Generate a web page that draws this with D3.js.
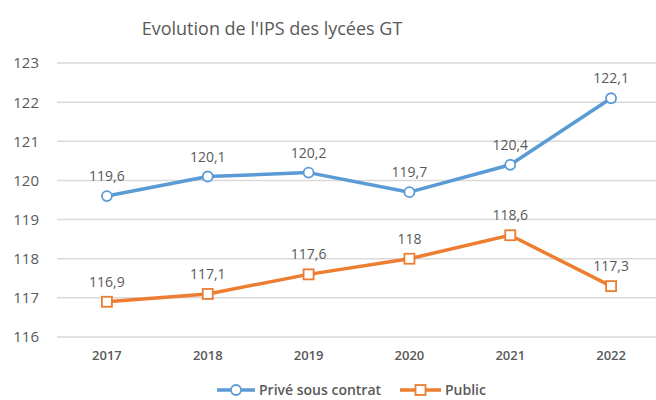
<!DOCTYPE html>
<html lang="fr">
<head>
    <meta charset="UTF-8">
    <title>Evolution de l'IPS des lycées GT</title>
    <script src="https://d3js.org/d3.v7.min.js"></script>
</head>
<body style="margin:0;background:#fff;">

<style>
    text { font-family: "Open Sans", "Liberation Sans", sans-serif; fill: #595959; }
    .grid line { stroke: #d9d9d9; stroke-width: 1.5; }
</style>

<script type="text/javascript">

    var years = ["2017", "2018", "2019", "2020", "2021", "2022"];
    var prive = [119.6, 120.1, 120.2, 119.7, 120.4, 122.1];
    var publicVals = [116.9, 117.1, 117.6, 118, 118.6, 117.3];
    var yTicks = [116, 117, 118, 119, 120, 121, 122, 123];

    var width = 656, height = 400;

    var svg = d3.select("body").append("svg")
            .attr("width", width)
            .attr("height", height);

    var xScale = d3.scaleBand().domain(years).range([56.5, 661.5]);
    var yScale = d3.scaleLinear().domain([116, 123]).range([337, 63]);

    var fmt = function(v){ return String(v).replace(".", ","); };

    // title
    svg.append("text")
            .attr("x", 272).attr("y", 35)
            .attr("text-anchor", "middle")
            .style("font-size", "18px")
            .text("Evolution de l'IPS des lycées GT");

    // gridlines
    svg.append("g").attr("class", "grid")
            .selectAll("line").data(yTicks).enter()
            .append("line")
            .attr("x1", 57).attr("x2", width)
            .attr("y1", function(d){ return yScale(d); })
            .attr("y2", function(d){ return yScale(d); });

    // y labels
    svg.append("g").selectAll("text").data(yTicks).enter()
            .append("text")
            .attr("x", 39)
            .attr("y", function(d){ return yScale(d); })
            .attr("dy", "0.36em")
            .attr("text-anchor", "end")
            .style("font-size", "15px")
            .text(function(d){ return d; });

    // x labels
    svg.append("g").selectAll("text").data(years).enter()
            .append("text")
            .attr("x", function(d){ return xScale(d) + xScale.bandwidth() / 2; })
            .attr("y", 360)
            .attr("text-anchor", "middle")
            .style("font-size", "13px")
            .style("font-weight", "600")
            .text(function(d){ return d; });

    var cx = function(d, i){ return xScale(years[i]) + xScale.bandwidth() / 2; };

    var series = [
        {name: "Privé sous contrat", values: prive, color: "#5b9bd5", shape: "circle"},
        {name: "Public", values: publicVals, color: "#ed7d31", shape: "square"}
    ];

    series.forEach(function(s){
        var line = d3.line()
                .x(cx)
                .y(function(d){ return yScale(d); });

        svg.append("path")
                .datum(s.values)
                .attr("d", line)
                .attr("fill", "none")
                .attr("stroke", s.color)
                .attr("stroke-width", 3.5)
                .attr("stroke-linejoin", "round");

        var g = svg.append("g");
        if (s.shape === "circle") {
            g.selectAll("circle").data(s.values).enter()
                    .append("circle")
                    .attr("cx", cx)
                    .attr("cy", function(d){ return yScale(d); })
                    .attr("r", 5)
                    .attr("fill", "#fff")
                    .attr("stroke", s.color)
                    .attr("stroke-width", 1.8);
        } else {
            g.selectAll("rect").data(s.values).enter()
                    .append("rect")
                    .attr("x", function(d, i){ return cx(d, i) - 5; })
                    .attr("y", function(d){ return yScale(d) - 5; })
                    .attr("width", 10).attr("height", 10)
                    .attr("fill", "#fff")
                    .attr("stroke", s.color)
                    .attr("stroke-width", 1.8);
        }

        svg.append("g").selectAll("text").data(s.values).enter()
                .append("text")
                .attr("x", cx)
                .attr("y", function(d){ return yScale(d) - 15; })
                .attr("text-anchor", "middle")
                .style("font-size", "14px")
                .text(fmt);
    });

    // legend
    var legend = [
        {x: 217, tx: 259, s: series[0]},
        {x: 400, tx: 445, s: series[1]}
    ];
    legend.forEach(function(l){
        var ly = 390;
        svg.append("line")
                .attr("x1", l.x).attr("x2", l.tx - 4)
                .attr("y1", ly).attr("y2", ly)
                .attr("stroke", l.s.color).attr("stroke-width", 3.5);
        var mx = (l.x + l.tx - 4) / 2;
        if (l.s.shape === "circle") {
            svg.append("circle").attr("cx", mx).attr("cy", ly).attr("r", 5)
                    .attr("fill", "#fff").attr("stroke", l.s.color).attr("stroke-width", 1.8);
        } else {
            svg.append("rect").attr("x", mx - 5).attr("y", ly - 5)
                    .attr("width", 10).attr("height", 10)
                    .attr("fill", "#fff").attr("stroke", l.s.color).attr("stroke-width", 1.8);
        }
        svg.append("text")
                .attr("x", l.tx).attr("y", ly)
                .attr("dy", "0.36em")
                .style("font-size", "14px")
                .style("font-weight", "600")
                .text(l.s.name);
    });

</script>

</body>
</html>
